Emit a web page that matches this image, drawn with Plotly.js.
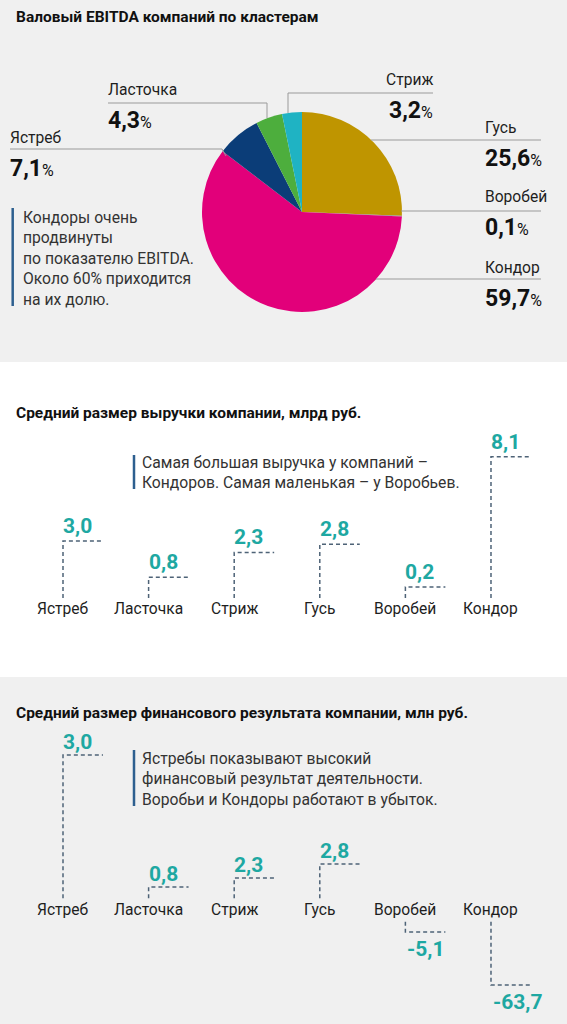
<!DOCTYPE html>
<html><head><meta charset="utf-8">
<script src="https://cdn.plot.ly/plotly-3.0.1.min.js"></script>
<style>html,body{margin:0;padding:0;background:#fff}#c{width:567px;height:1024px}</style>
</head><body><div id="c"></div>
<script>
// ---- data ----
const clusters = ["Ястреб","Ласточка","Стриж","Гусь","Воробей","Кондор"];
// Pie (clockwise from 12 o'clock)
const pieLabels = ["Гусь","Воробей","Кондор","Ястреб","Ласточка","Стриж"];
const pieShares = [25.6, 0.1, 59.7, 7.1, 4.3, 3.2];
const pieColors = ["#bf9500","#8a8a8a","#e2007a","#0b3d78","#4dae3d","#1fb3c3"];
// Average revenue, bln rub
const revenue = [3.0, 0.8, 2.3, 2.8, 0.2, 8.1];
// Average financial result: printed labels, and bar lengths as drawn in the source (Кондор scale)
const finLabels = [3.0, 0.8, 2.3, 2.8, -5.1, -63.7];
const finBarLen = [131.6, 19.5, 27.2, 39.1, -18.7, -63.7];

// ---- helpers ----
const W = 567, H = 1024;
const FONT = "Roboto,'DejaVu Sans Condensed',sans-serif";
const px = x => x / W, py = y => 1 - y / H;
const fmt = v => v.toFixed(1).replace('.', ',');
const TEAL = "#1ea8a2", DASH = "#4e6377", BG = "#f0f0f0", TXT = "#1e1e1e";

const shapes = [
  {type:'rect', xref:'paper', yref:'paper', x0:0, x1:1, y0:py(362), y1:1, fillcolor:BG, line:{width:0}, layer:'below'},
  {type:'rect', xref:'paper', yref:'paper', x0:0, x1:1, y0:0, y1:py(677), fillcolor:BG, line:{width:0}, layer:'below'}
];
function seg(pts){ // leader polyline in pixel coords
  for(let k=0;k<pts.length-1;k++) shapes.push({type:'line', xref:'paper', yref:'paper',
    x0:px(pts[k][0]), y0:py(pts[k][1]), x1:px(pts[k+1][0]), y1:py(pts[k+1][1]), line:{color:'#9a9a9a', width:1}});
}
function bar(x, y0, y1){
  shapes.push({type:'line', xref:'paper', yref:'paper', x0:px(x), x1:px(x), y0:py(y0), y1:py(y1), line:{color:'#2d5f8f', width:2.5}});
}
// leader lines
seg([[10,149],[222,149],[226,156]]);
seg([[108,103],[267,103],[267,118]]);
seg([[433,93],[288,93],[288,113]]);
seg([[371,140],[541,140]]);
seg([[401,211],[541,211]]);
seg([[376,279],[541,279]]);
bar(12.7, 208, 306);
bar(134, 455, 489);
bar(134, 750, 806);

const annotations = [];
function T(text, x, y, opt){
  annotations.push(Object.assign({text, xref:'paper', yref:'paper', x:px(x), y:py(y), showarrow:false,
    xanchor:'left', yanchor:'middle', align:'left', font:{family:FONT, size:16, color:TXT}}, opt||{}));
}
const titleFont = {family:FONT, size:15.5, color:'#111'};
T("<b>Валовый EBITDA компаний по кластерам</b>", 14, 17, {font:titleFont});
T("<b>Средний размер выручки компании, млрд руб.</b>", 14, 413, {font:titleFont});
T("<b>Средний размер финансового результата компании, млн руб.</b>", 14, 713, {font:titleFont});
const noteFont = {family:FONT, size:15.7, color:'#333'};
T("Кондоры очень<br>продвинуты<br>по показателю EBITDA.<br>Около 60% приходится<br>на их долю.", 21, 258, {font:noteFont});
T("Самая большая выручка у компаний –<br>Кондоров. Самая маленькая – у Воробьев.", 140, 472.5, {font:noteFont});
T("Ястребы показывают высокий<br>финансовый результат деятельности.<br>Воробьи и Кондоры работают в убыток.", 140, 779, {font:noteFont});

const nameFont = {family:FONT, size:15.6, color:TXT};
// pie labels (name above, value below)
const pieLabelPos = {"Ястреб":[8,138,'left'], "Ласточка":[106,90,'left'], "Стриж":[435,80,'right'],
  "Гусь":[483,128,'left'], "Воробей":[483,197,'left'], "Кондор":[483,268,'left']};
pieLabels.forEach((name, i) => {
  const p = pieLabelPos[name];
  T(name, p[0], p[1], {xanchor:p[2], font:nameFont});
  T("<b>" + fmt(pieShares[i]) + "</b><span style='font-size:16px'>%</span>", p[0], p[1] + 30,
    {xanchor:p[2], font:{family:FONT, size:23, color:'#111'}});
});

// ---- dashed step markers ----
const SEG = 0.467;           // horizontal tick length (x units)
const REV_BASE = -0.46;      // revenue lines start just under the zero line
const FIN_GAP = 10;          // fin lines start just off the label row
function steps(vals, baseFn){
  const xs = [], ys = [];
  vals.forEach((v, i) => { const b = baseFn(v); xs.push(i, i, i + SEG, null); ys.push(b, v, v, null); });
  return {xs, ys};
}
const s2 = steps(revenue, () => REV_BASE);
const s3 = steps(finBarLen, v => v >= 0 ? FIN_GAP : -FIN_GAP);
const dashLine = {color:DASH, width:1.5, dash:'4px,3px'};
const valFont = {family:FONT, size:21, color:TEAL};

revenue.forEach((v, i) => {
  annotations.push({text:"<b>" + fmt(v) + "</b>", xref:'x', yref:'y', x:i, y:v, xanchor:'left', yanchor:'middle',
    xshift:-2, yshift:15, showarrow:false, font:valFont});
  annotations.push({text:clusters[i], xref:'x', yref:'y', x:i, y:REV_BASE, xanchor:'center', yanchor:'middle',
    yshift:-11, showarrow:false, font:nameFont});
});
finBarLen.forEach((v, i) => {
  annotations.push({text:"<b>" + fmt(finLabels[i]) + "</b>", xref:'x2', yref:'y2', x:i, y:v, xanchor:'left', yanchor:'middle',
    xshift: v >= 0 ? -2 : 0, yshift: v >= 0 ? 13 : -17, showarrow:false, font:valFont});
  annotations.push({text:clusters[i], xref:'x2', yref:'y2', x:i, y:0, xanchor:'center', yanchor:'middle',
    showarrow:false, font:nameFont});
});

const data = [
  {type:'pie', labels:pieLabels, values:pieShares, marker:{colors:pieColors, line:{width:0}},
   sort:false, direction:'clockwise', rotation:0, textinfo:'none', hoverinfo:'none', showlegend:false,
   domain:{x:[px(202), px(402)], y:[py(312), py(112)]}},
  {type:'scatter', mode:'lines', x:s2.xs, y:s2.ys, line:dashLine, xaxis:'x', yaxis:'y', hoverinfo:'skip', showlegend:false},
  {type:'scatter', mode:'lines', x:s3.xs, y:s3.ys, line:dashLine, xaxis:'x2', yaxis:'y2', hoverinfo:'skip', showlegend:false}
];
const X0 = -0.736, X1 = 5.888;
const hid = {visible:false, fixedrange:true, showgrid:false, zeroline:false};
const layout = {
  width:W, height:H, margin:{l:0, r:0, t:0, b:0}, paper_bgcolor:'#fff', plot_bgcolor:'rgba(0,0,0,0)',
  showlegend:false, font:{family:FONT},
  xaxis:Object.assign({range:[X0, X1], domain:[0,1], anchor:'y'}, hid),
  yaxis:Object.assign({range:[-5.248, 13.842], domain:[py(677), py(362)], anchor:'x'}, hid),
  xaxis2:Object.assign({range:[X0, X1], domain:[0,1], anchor:'y2'}, hid),
  yaxis2:Object.assign({range:[-96.8, 197.9], domain:[0, py(677)], anchor:'x2'}, hid),
  shapes, annotations
};
Plotly.newPlot('c', data, layout, {staticPlot:true, displayModeBar:false});
</script></body></html>
